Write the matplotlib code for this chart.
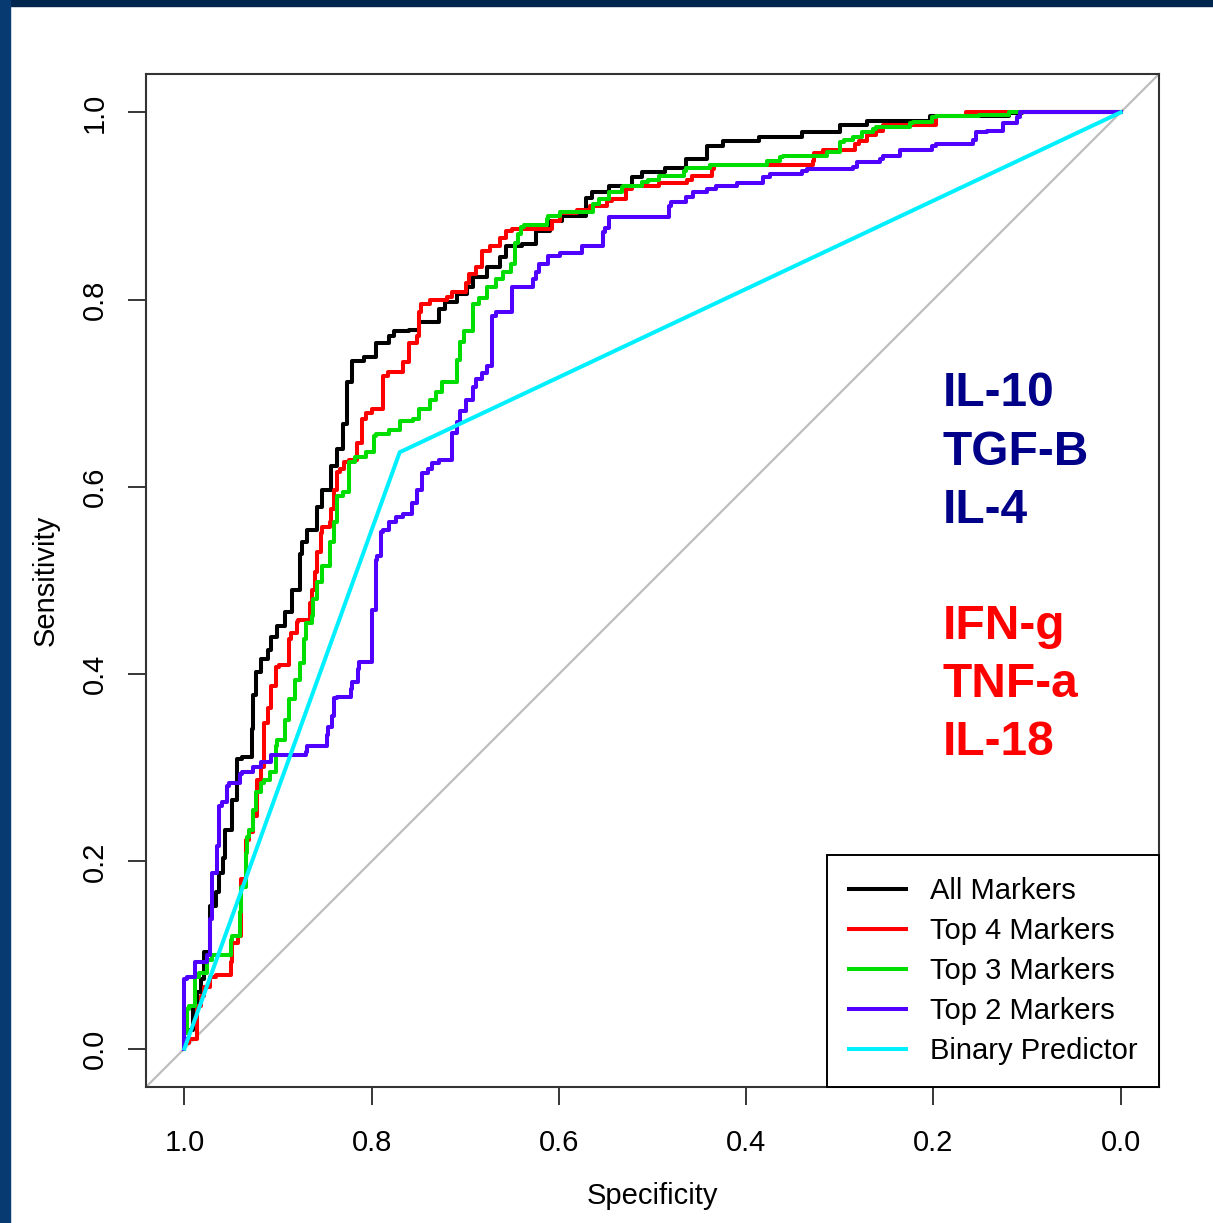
import matplotlib.pyplot as plt
import numpy as np

plt.rcParams['font.family'] = ['Liberation Sans', 'DejaVu Sans']

# ROC curves (specificity, sensitivity)
all_spec = [1.000, 0.995, 0.991, 0.987, 0.982, 0.979, 0.973, 0.973, 0.966, 0.963, 0.959, 0.957,
            0.949, 0.944, 0.944, 0.938, 0.928, 0.927, 0.923, 0.918, 0.911, 0.907, 0.901, 0.893,
            0.885, 0.877, 0.874, 0.869, 0.858, 0.853, 0.843, 0.837, 0.831, 0.826, 0.821, 0.808,
            0.795, 0.781, 0.776, 0.760, 0.749, 0.728, 0.722, 0.709, 0.698, 0.692, 0.677, 0.663,
            0.656, 0.639, 0.624, 0.610, 0.597, 0.571, 0.565, 0.546, 0.522, 0.511, 0.487, 0.464,
            0.442, 0.425, 0.386, 0.340, 0.300, 0.271, 0.204, 0.119, 0.105, 0.000]
all_sens = [0.000, 0.010, 0.020, 0.042, 0.060, 0.074, 0.103, 0.138, 0.152, 0.167, 0.188, 0.204,
            0.234, 0.266, 0.298, 0.309, 0.312, 0.341, 0.378, 0.402, 0.416, 0.426, 0.440, 0.451,
            0.466, 0.490, 0.528, 0.541, 0.554, 0.579, 0.597, 0.622, 0.640, 0.667, 0.712, 0.734,
            0.739, 0.754, 0.761, 0.766, 0.768, 0.776, 0.790, 0.797, 0.806, 0.813, 0.824, 0.835,
            0.846, 0.857, 0.859, 0.873, 0.884, 0.889, 0.909, 0.915, 0.921, 0.931, 0.936, 0.941,
            0.950, 0.964, 0.969, 0.974, 0.979, 0.987, 0.991, 0.996, 0.999, 1.000]

top4_spec = [1.000, 0.995, 0.987, 0.986, 0.982, 0.979, 0.973, 0.966, 0.950, 0.949, 0.943, 0.939,
             0.939, 0.934, 0.931, 0.927, 0.922, 0.918, 0.915, 0.915, 0.911, 0.907, 0.902, 0.899,
             0.888, 0.886, 0.880, 0.879, 0.866, 0.864, 0.861, 0.858, 0.854, 0.853, 0.845, 0.843,
             0.840, 0.837, 0.834, 0.829, 0.824, 0.816, 0.810, 0.806, 0.800, 0.788, 0.783, 0.767,
             0.760, 0.752, 0.749, 0.747, 0.738, 0.720, 0.714, 0.699, 0.696, 0.688, 0.682, 0.674,
             0.663, 0.656, 0.650, 0.607, 0.599, 0.581, 0.567, 0.549, 0.543, 0.528, 0.522, 0.493,
             0.463, 0.458, 0.436, 0.434, 0.378, 0.329, 0.327, 0.318, 0.284, 0.279, 0.271, 0.261,
             0.254, 0.197, 0.193, 0.165, 0.154, 0.000]
top4_sens = [0.000, 0.006, 0.010, 0.031, 0.045, 0.056, 0.066, 0.077, 0.079, 0.092, 0.113, 0.120,
             0.152, 0.181, 0.223, 0.231, 0.248, 0.287, 0.301, 0.327, 0.348, 0.364, 0.387, 0.408,
             0.410, 0.437, 0.444, 0.456, 0.458, 0.476, 0.490, 0.509, 0.530, 0.551, 0.557, 0.562,
             0.576, 0.597, 0.616, 0.619, 0.627, 0.629, 0.647, 0.672, 0.679, 0.683, 0.718, 0.723,
             0.733, 0.754, 0.761, 0.787, 0.795, 0.800, 0.803, 0.808, 0.818, 0.827, 0.835, 0.852,
             0.857, 0.866, 0.873, 0.875, 0.884, 0.893, 0.896, 0.900, 0.905, 0.907, 0.918, 0.921,
             0.925, 0.928, 0.932, 0.939, 0.944, 0.944, 0.948, 0.957, 0.960, 0.966, 0.969, 0.976,
             0.980, 0.987, 0.996, 0.996, 1.000, 1.000]

top3_spec = [1.000, 0.997, 0.995, 0.989, 0.984, 0.976, 0.970, 0.959, 0.950, 0.949, 0.941, 0.939,
             0.934, 0.933, 0.931, 0.927, 0.923, 0.918, 0.915, 0.909, 0.902, 0.901, 0.893, 0.888,
             0.882, 0.877, 0.872, 0.870, 0.864, 0.863, 0.858, 0.853, 0.845, 0.840, 0.837, 0.831,
             0.824, 0.818, 0.806, 0.797, 0.795, 0.781, 0.770, 0.756, 0.749, 0.738, 0.731, 0.725,
             0.709, 0.706, 0.701, 0.692, 0.685, 0.677, 0.667, 0.660, 0.651, 0.647, 0.644, 0.640,
             0.637, 0.613, 0.612, 0.599, 0.564, 0.557, 0.546, 0.533, 0.532, 0.511, 0.505, 0.493,
             0.466, 0.464, 0.439, 0.436, 0.378, 0.364, 0.361, 0.314, 0.300, 0.295, 0.286, 0.276,
             0.265, 0.261, 0.225, 0.222, 0.201, 0.197, 0.151, 0.119, 0.115, 0.000]
top3_sens = [0.000, 0.017, 0.042, 0.045, 0.077, 0.081, 0.095, 0.100, 0.100, 0.116, 0.120, 0.146,
             0.173, 0.209, 0.226, 0.234, 0.255, 0.274, 0.284, 0.287, 0.295, 0.323, 0.330, 0.351,
             0.373, 0.394, 0.412, 0.437, 0.455, 0.462, 0.480, 0.498, 0.515, 0.541, 0.562, 0.590,
             0.594, 0.627, 0.632, 0.637, 0.654, 0.656, 0.661, 0.670, 0.673, 0.683, 0.693, 0.701,
             0.712, 0.736, 0.755, 0.766, 0.795, 0.802, 0.813, 0.822, 0.830, 0.838, 0.861, 0.870,
             0.878, 0.880, 0.886, 0.889, 0.894, 0.902, 0.907, 0.915, 0.920, 0.921, 0.926, 0.928,
             0.932, 0.937, 0.941, 0.944, 0.944, 0.948, 0.952, 0.953, 0.958, 0.968, 0.971, 0.974,
             0.979, 0.982, 0.984, 0.989, 0.990, 0.995, 0.996, 0.997, 1.000, 1.000]

top2_spec = [1.000, 1.000, 0.997, 0.989, 0.987, 0.976, 0.973, 0.971, 0.970, 0.965, 0.963, 0.960,
             0.955, 0.952, 0.941, 0.938, 0.927, 0.918, 0.907, 0.902, 0.870, 0.869, 0.861, 0.848,
             0.847, 0.842, 0.840, 0.837, 0.822, 0.821, 0.815, 0.813, 0.808, 0.800, 0.800, 0.795,
             0.794, 0.790, 0.788, 0.781, 0.774, 0.767, 0.757, 0.752, 0.746, 0.740, 0.735, 0.728,
             0.714, 0.709, 0.706, 0.699, 0.692, 0.688, 0.682, 0.677, 0.671, 0.667, 0.661, 0.650,
             0.650, 0.628, 0.624, 0.621, 0.612, 0.599, 0.575, 0.567, 0.553, 0.551, 0.546, 0.535,
             0.482, 0.480, 0.464, 0.457, 0.442, 0.432, 0.410, 0.382, 0.375, 0.340, 0.335, 0.286,
             0.282, 0.257, 0.254, 0.236, 0.236, 0.201, 0.197, 0.158, 0.154, 0.143, 0.126, 0.126,
             0.111, 0.108, 0.097, 0.000]
top2_sens = [0.000, 0.049, 0.074, 0.076, 0.092, 0.092, 0.100, 0.138, 0.178, 0.188, 0.216, 0.259,
             0.263, 0.280, 0.284, 0.293, 0.295, 0.301, 0.306, 0.314, 0.314, 0.317, 0.323, 0.323,
             0.335, 0.343, 0.355, 0.375, 0.376, 0.384, 0.392, 0.405, 0.413, 0.413, 0.451, 0.469,
             0.522, 0.526, 0.552, 0.554, 0.562, 0.568, 0.571, 0.583, 0.597, 0.615, 0.619, 0.626,
             0.629, 0.658, 0.669, 0.681, 0.693, 0.707, 0.715, 0.722, 0.729, 0.782, 0.787, 0.787,
             0.814, 0.814, 0.822, 0.830, 0.838, 0.847, 0.850, 0.857, 0.857, 0.872, 0.877, 0.888,
             0.888, 0.900, 0.904, 0.910, 0.915, 0.918, 0.921, 0.925, 0.931, 0.934, 0.937, 0.939,
             0.942, 0.947, 0.950, 0.953, 0.957, 0.960, 0.964, 0.966, 0.971, 0.979, 0.980, 0.985,
             0.989, 0.995, 1.000, 1.000]

binary_spec = [1.0, 0.770, 0.0]
binary_sens = [0.0, 0.637, 1.0]

series = [
    ('All Markers', all_spec, all_sens, 'black'),
    ('Top 4 Markers', top4_spec, top4_sens, '#FF0000'),
    ('Top 3 Markers', top3_spec, top3_sens, '#00DD00'),
    ('Top 2 Markers', top2_spec, top2_sens, '#5000FF'),
]

blue_labels = ['IL-10', 'TGF-B', 'IL-4']
red_labels = ['IFN-g', 'TNF-a', 'IL-18']

fig = plt.figure(figsize=(12.13, 12.23), dpi=100)
# dark slide border on top and left
fig.patches.append(plt.Rectangle((0, 1 - 6 / 1223), 1, 6 / 1223, transform=fig.transFigure,
                                 color='#00264f', zorder=0))
fig.patches.append(plt.Rectangle((0, 0), 10 / 1213, 1, transform=fig.transFigure,
                                 color='#063a70', zorder=0))

ax = fig.add_axes([146 / 1213, 1 - 1087 / 1223, 1013 / 1213, 1013 / 1223])

ax.plot([1.041, -0.041], [-0.041, 1.041], color='#BEBEBE', lw=1.6, zorder=1)

for name, sp, se, col in series:
    ax.plot(sp, se, color=col, lw=2.9, drawstyle='steps-pre', label=name, zorder=3)
ax.plot(binary_spec, binary_sens, color='#00F0FF', lw=2.9, label='Binary Predictor', zorder=3)

ax.set_xlim(1.041, -0.041)
ax.set_ylim(-0.041, 1.041)
ticks = [0.0, 0.2, 0.4, 0.6, 0.8, 1.0]
ax.set_xticks(ticks)
ax.set_yticks(ticks)
ax.set_xticklabels(['%.1f' % t for t in ticks])
ax.set_yticklabels(['%.1f' % t for t in ticks], rotation=90, va='center')
ax.tick_params(axis='x', direction='out', length=13, width=1.1, labelsize=21, pad=17)
ax.tick_params(axis='y', direction='out', length=13, width=1.1, labelsize=21, pad=14)
for s in ax.spines.values():
    s.set_linewidth(1.5)
    s.set_color('#333333')

ax.set_xlabel('Specificity', fontsize=21, labelpad=18)
ax.set_ylabel('Sensitivity', fontsize=21, labelpad=15)

for i, t in enumerate(blue_labels):
    ax.text(0.190, 0.686 - i * 0.0625, t, color='#000088', fontsize=34.5, fontweight='bold',
            ha='left', va='baseline')
for i, t in enumerate(red_labels):
    ax.text(0.190, 0.437 - i * 0.0615, t, color='#FF0000', fontsize=34.5, fontweight='bold',
            ha='left', va='baseline')

leg = ax.legend(loc='lower right', fontsize=21, frameon=True, fancybox=False, borderaxespad=0,
                handlelength=1.95, handletextpad=0.82, labelspacing=0.41, borderpad=0.75)
leg.get_frame().set_edgecolor('black')
leg.get_frame().set_linewidth(1.4)
leg.get_frame().set_alpha(1)

plt.savefig('out.png', dpi=100)
